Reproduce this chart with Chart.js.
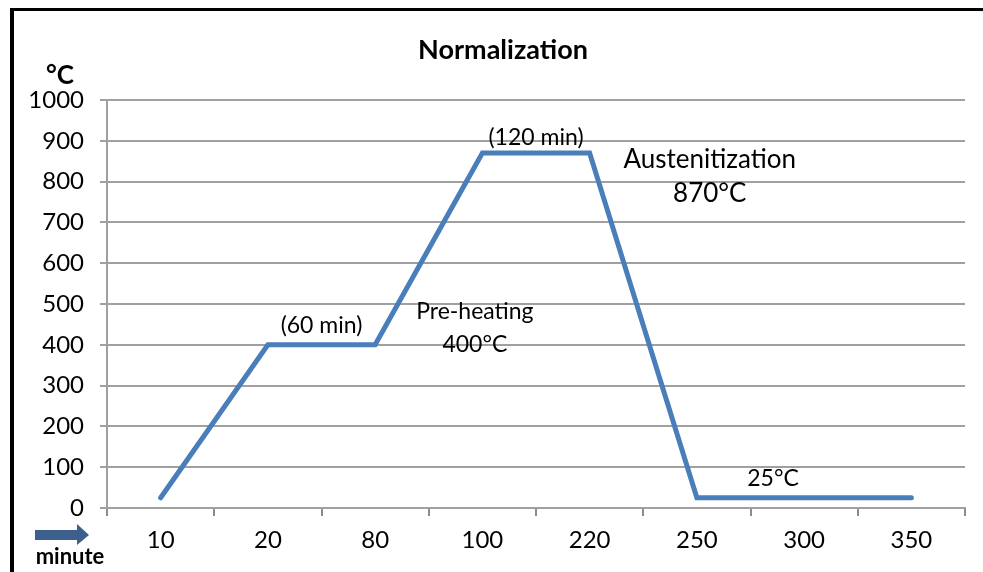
<!DOCTYPE html>
<html>
<head>
<meta charset="utf-8">
<script src="https://cdn.jsdelivr.net/npm/chart.js@4"></script>
<style>
  body { margin: 0; background: #fff; }
  #wrap { width: 983px; height: 572px; }
</style>
</head>
<body>
<div id="wrap"><canvas id="myChart" width="983" height="572"></canvas></div>
<script>
const minutes = ['10', '20', '80', '100', '220', '250', '300', '350'];
const temps = [25, 400, 400, 870, 870, 25, 25, 25];
const yTicks = [0, 100, 200, 300, 400, 500, 600, 700, 800, 900, 1000];

// notes placed in data units: [text, category index, temperature, font size]
const notes = [
  ['(60 min)', 1.5, 448, 23],
  ['Pre-heating', 2.93, 482, 23],
  ['400°C', 2.93, 400, 23],
  ['(120 min)', 3.5, 909, 23],
  ['Austenitization', 5.12, 855, 26],
  ['870°C', 5.12, 770, 26],
  ['25°C', 5.71, 72, 23]
];

const FONT = 'Lato, "Open Sans", sans-serif';

const extras = {
  id: 'extras',
  beforeDraw(chart) {
    const c = chart.ctx;
    c.save();
    c.fillStyle = '#fff';
    c.fillRect(0, 0, chart.width, chart.height);
    c.fillStyle = '#000';
    c.fillRect(10, 8, 4, chart.height - 8);
    c.fillRect(10, 8, chart.width - 10, 3);
    c.restore();
  },
  afterDraw(chart) {
    const c = chart.ctx;
    const x = chart.scales.x, y = chart.scales.y;
    c.save();
    c.fillStyle = '#000';
    c.textAlign = 'center';
    c.textBaseline = 'middle';
    c.font = 'bold 27px ' + FONT;
    c.fillText('Normalization', 503, 50);
    c.font = 'bold 26px ' + FONT;
    c.fillText('°C', 60, 76);
    c.font = 'bold 22px ' + FONT;
    c.fillText('minute', 70, 557);
    notes.forEach(n => {
      c.font = n[3] + 'px ' + FONT;
      c.fillText(n[0], x.getPixelForValue(n[1]), y.getPixelForValue(n[2]));
    });
    // arrow
    c.fillStyle = '#3d5f8c';
    c.fillRect(35, 530, 44, 10);
    c.beginPath();
    c.moveTo(77, 524);
    c.lineTo(89, 535);
    c.lineTo(77, 545);
    c.closePath();
    c.fill();
    c.restore();
  }
};

const ctx = document.getElementById('myChart').getContext('2d');
const myChart = new Chart(ctx, {
    type: 'line',
    data: {
        labels: minutes,
        datasets: [{
            data: temps,
            borderColor: '#4a7ebb',
            borderWidth: 5,
            pointRadius: 0,
            borderCapStyle: 'round',
            borderJoinStyle: 'miter',
            tension: 0,
            fill: false
        }]
    },
    options: {
        responsive: false,
        animation: false,
        layout: { padding: { left: 0, top: 100, right: 18, bottom: 0 } },
        plugins: {
            legend: { display: false },
            title: { display: false },
            tooltip: { enabled: false }
        },
        scales: {
            x: {
                offset: true,
                afterFit(a) { a.height = 64; },
                grid: { offset: true, drawOnChartArea: false, drawTicks: true, tickLength: 8, color: '#8c8c8c', lineWidth: 2 },
                border: { color: '#a0a0a0', width: 2 },
                ticks: { color: '#000', font: { family: FONT, size: 24 }, padding: 10, maxRotation: 0 }
            },
            y: {
                min: 0,
                max: 1000,
                afterFit(a) { a.width = 107; },
                afterBuildTicks(a) { a.ticks = yTicks.map(v => ({ value: v })); },
                grid: { color: '#a0a0a0', lineWidth: 2, tickLength: 7 },
                border: { color: '#a0a0a0', width: 2 },
                ticks: { color: '#000', font: { family: FONT, size: 24 }, padding: 16, callback: v => String(v) }
            }
        }
    },
    plugins: [extras]
});
</script>
</body>
</html>
